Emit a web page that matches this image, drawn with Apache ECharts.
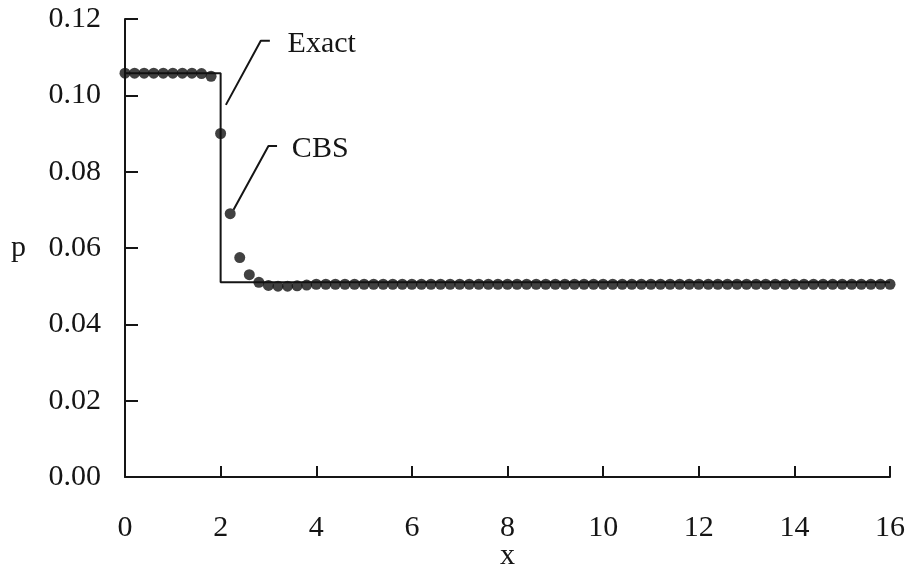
<!DOCTYPE html>
<html>
<head>
<meta charset="utf-8">
<script src="https://cdn.jsdelivr.net/npm/echarts@6/dist/echarts.min.js"></script>
<style>
  html, body { margin: 0; padding: 0; background: #fff; }
  #chart { width: 910px; height: 564px; }
</style>
</head>
<body>
<div id="chart"></div>
<script>
// Numerical (CBS) solution, sampled every 0.2 in x
const cbsX = [];
for (let i = 0; i <= 80; i++) cbsX.push(+(i * 0.2).toFixed(1));
const cbsP = [
  0.1058, 0.1058, 0.1058, 0.1058, 0.1058, 0.1058, 0.1058, 0.1058, 0.1057, 0.1050,
  0.0900, 0.0690, 0.0575, 0.0530, 0.0510, 0.0502, 0.0500, 0.0500, 0.0501, 0.0503,
  0.0505, 0.0505, 0.0505, 0.0505, 0.0505, 0.0505, 0.0505, 0.0505, 0.0505, 0.0505,
  0.0505, 0.0505, 0.0505, 0.0505, 0.0505, 0.0505, 0.0505, 0.0505, 0.0505, 0.0505,
  0.0505, 0.0505, 0.0505, 0.0505, 0.0505, 0.0505, 0.0505, 0.0505, 0.0505, 0.0505,
  0.0505, 0.0505, 0.0505, 0.0505, 0.0505, 0.0505, 0.0505, 0.0505, 0.0505, 0.0505,
  0.0505, 0.0505, 0.0505, 0.0505, 0.0505, 0.0505, 0.0505, 0.0505, 0.0505, 0.0505,
  0.0505, 0.0505, 0.0505, 0.0505, 0.0505, 0.0505, 0.0505, 0.0505, 0.0505, 0.0505,
  0.0505
];

// Exact step solution
const exactX = [0, 2, 2, 16];
const exactP = [0.1058, 0.1058, 0.0510, 0.0510];

// Leader lines for the two callouts (data coordinates)
const exactLeaderX = [2.11, 2.84, 3.03];
const exactLeaderP = [0.0975, 0.1143, 0.1143];
const cbsLeaderX = [2.27, 3.0, 3.18];
const cbsLeaderP = [0.0700, 0.0867, 0.0867];

// Callout text anchors
const labels = [
  { text: 'Exact', x: 3.40, p: 0.1137 },
  { text: 'CBS', x: 3.49, p: 0.0862 }
];

const xTicks = [0, 2, 4, 6, 8, 10, 12, 14, 16];
const yTicks = [0, 0.02, 0.04, 0.06, 0.08, 0.10, 0.12];

const FONT = '"Liberation Serif", "Times New Roman", serif';
const INK = '#151515';

const zip = (xs, ys) => xs.map((x, i) => [x, ys[i]]);

const chart = echarts.init(document.getElementById('chart'));

chart.setOption({
  backgroundColor: '#ffffff',
  animation: false,
  grid: {
    left: 125, right: 20, top: 19, bottom: 87,
    containLabel: false,
    outerBoundsMode: 'none'
  },
  xAxis: {
    type: 'value',
    min: xTicks[0],
    max: xTicks[xTicks.length - 1],
    interval: 2,
    name: 'x',
    nameLocation: 'middle',
    nameGap: 64,
    nameMoveOverlap: false,
    nameTextStyle: { fontFamily: FONT, fontSize: 30, color: INK },
    axisLine: { show: true, lineStyle: { color: INK, width: 2 } },
    axisTick: { show: true, inside: true, length: 11, lineStyle: { color: INK, width: 2 } },
    axisLabel: { margin: 36, fontFamily: FONT, fontSize: 30, color: INK },
    splitLine: { show: false }
  },
  yAxis: {
    type: 'value',
    min: yTicks[0],
    max: yTicks[yTicks.length - 1],
    interval: 0.02,
    name: 'p',
    nameLocation: 'middle',
    nameRotate: 0,
    nameGap: 99,
    nameMoveOverlap: false,
    nameTextStyle: { fontFamily: FONT, fontSize: 30, color: INK },
    axisLine: { show: true, lineStyle: { color: INK, width: 2 } },
    axisTick: { show: true, inside: true, length: 13, lineStyle: { color: INK, width: 2 } },
    axisLabel: {
      margin: 24, fontFamily: FONT, fontSize: 30, color: INK,
      formatter: v => v.toFixed(2)
    },
    splitLine: { show: false }
  },
  series: [
    {
      name: 'Exact',
      type: 'line',
      data: zip(exactX, exactP),
      showSymbol: false,
      lineStyle: { color: INK, width: 2 },
      z: 2
    },
    {
      name: 'CBS',
      type: 'scatter',
      data: zip(cbsX, cbsP),
      symbol: 'circle',
      symbolSize: 11,
      itemStyle: { color: '#111111' },
      z: 3
    },
    {
      name: 'exact-leader',
      type: 'line',
      data: zip(exactLeaderX, exactLeaderP),
      showSymbol: false,
      lineStyle: { color: INK, width: 2 },
      z: 2
    },
    {
      name: 'cbs-leader',
      type: 'line',
      data: zip(cbsLeaderX, cbsLeaderP),
      showSymbol: false,
      lineStyle: { color: INK, width: 2 },
      z: 2
    }
  ]
});

// Place callout text at data positions
chart.setOption({
  graphic: labels.map(l => {
    const [px, py] = chart.convertToPixel({ gridIndex: 0 }, [l.x, l.p]);
    return {
      type: 'text',
      left: px,
      top: py - 14,
      style: { text: l.text, font: '30px ' + FONT, fill: INK }
    };
  })
});
</script>
</body>
</html>
